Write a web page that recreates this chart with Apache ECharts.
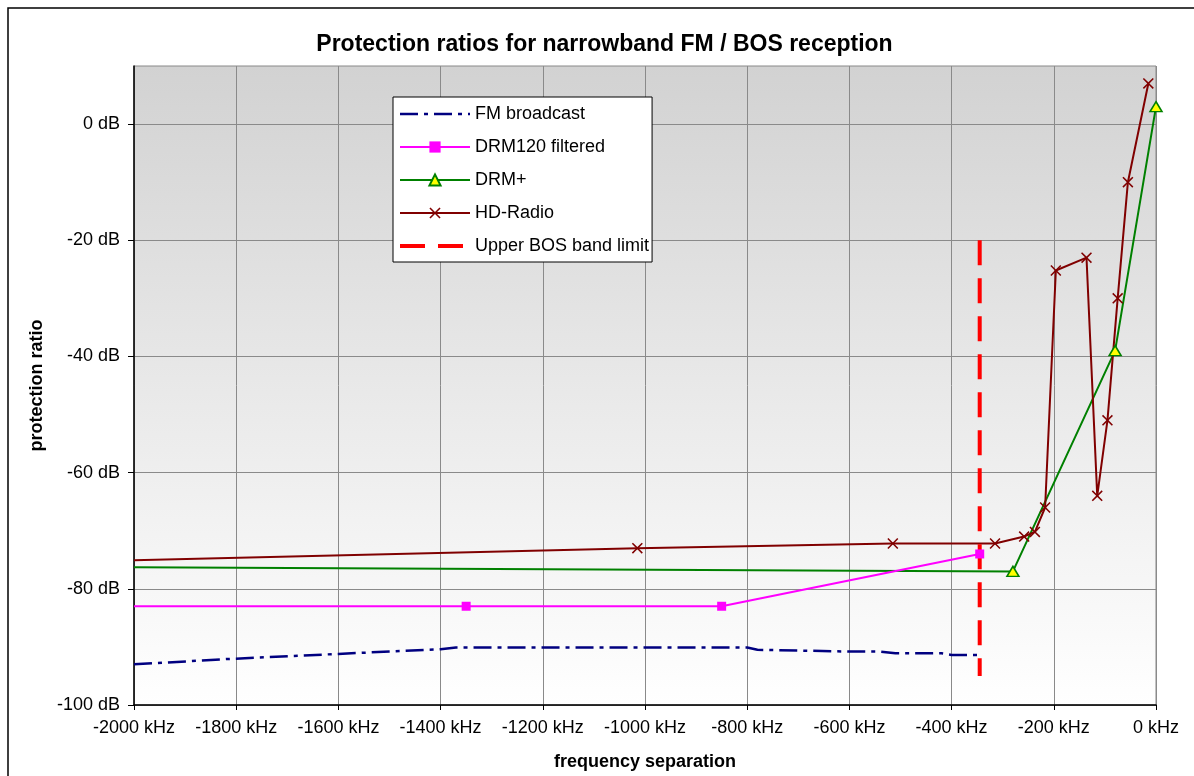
<!DOCTYPE html>
<html><head><meta charset="utf-8">
<script src="https://cdn.jsdelivr.net/npm/echarts@6/dist/echarts.min.js"></script>
<style>html,body{margin:0;padding:0;background:#fff}#c{width:1194px;height:776px}</style>
</head><body><div id="c"></div>
<script>
// ---- data ----
const fmX = [-2000, -1820, -1600, -1400, -1370, -800, -780, -600, -540, -510, -420, -400, -345];
const fmY = [-93.0, -92.1, -91.2, -90.4, -90.1, -90.1, -90.5, -90.8, -90.8, -91.1, -91.1, -91.4, -91.4];
const drm120X = [-2000, -1350, -850, -345];
const drm120Y = [-83, -83, -83, -74];
const drmPlusX = [-2000, -280, -80, 0];
const drmPlusY = [-76.3, -77, -39, 3];
const hdX = [-2000, -1015, -515, -315, -258, -237, -217, -196, -136, -115, -95, -75, -55, -15];
const hdY = [-75.1, -73, -72.2, -72.2, -71, -70.2, -66, -25.2, -23, -64, -51, -30, -10, 7];
const bosX = [-345, -345];
const bosY = [-20, -95];
const seriesNames = ['FM broadcast', 'DRM120 filtered', 'DRM+', 'HD-Radio', 'Upper BOS band limit'];
const yTickValues = [-100, -80, -60, -40, -20, 0];
const xMin = -2000, xMax = 0, xStep = 200;
const yMin = -100, yMax = 10, yStep = 20;
const titleText = 'Protection ratios for narrowband FM / BOS reception';

// ---- build ----
const FONT = 'Arial, "Liberation Sans", sans-serif';
function pairs(xs, ys, hideFirst) {
  return xs.map((x, i) => (hideFirst && i === 0) ? { value: [x, ys[i]], symbol: 'none' } : [x, ys[i]]);
}
const cv = document.createElement('canvas').getContext('2d');
cv.font = 'bold 23px ' + FONT;
const titleW = cv.measureText(titleText).width;

const chart = echarts.init(document.getElementById('c'), null, { renderer: 'canvas' });
const xMark = 'path://M0,1L1,0L5,4L9,0L10,1L6,5L10,9L9,10L5,6L1,10L0,9L4,5Z';
const clear = 'rgba(0,0,0,0)';
const legendLine = [
  { width: 2.5 }, { width: 2 }, { width: 2 }, { width: 2 }, { width: 4 }
];
chart.setOption({
  animation: false,
  backgroundColor: '#fff',
  textStyle: { fontFamily: FONT },
  graphic: [{
    type: 'rect', z: -10, silent: true,
    shape: { x: 8, y: 8, width: 1300, height: 900 },
    style: { fill: 'none', stroke: '#000', lineWidth: 1.5 }
  }],
  title: {
    text: titleText,
    left: 604.5 - titleW / 2, top: 33, padding: 0,
    textStyle: { fontSize: 23, fontWeight: 'bold', color: '#000', fontFamily: FONT }
  },
  legend: {
    data: seriesNames.map((n, i) => ({ name: n, lineStyle: legendLine[i] })),
    orient: 'vertical',
    left: 393, top: 97,
    itemWidth: 70, itemHeight: 14, itemGap: 15,
    padding: [8, 3, 7, 5],
    backgroundColor: '#fff', borderColor: '#000', borderWidth: 1,
    textStyle: { fontSize: 18, color: '#000', fontFamily: FONT }
  },
  grid: {
    left: 134, right: 38, top: 66, bottom: 71, show: true,
    borderColor: '#888', borderWidth: 1,
    backgroundColor: { type: 'linear', x: 0, y: 0, x2: 0, y2: 1,
      colorStops: [{ offset: 0, color: '#d2d2d2' }, { offset: 1, color: '#ffffff' }] }
  },
  xAxis: {
    type: 'value', min: xMin, max: xMax, interval: xStep,
    axisLine: { show: true, onZero: false, lineStyle: { color: '#000', width: 1.5 } },
    axisTick: { show: true, length: 5, lineStyle: { color: '#000' } },
    axisLabel: { formatter: v => v + ' kHz', fontSize: 18, color: '#000', margin: 14, fontFamily: FONT },
    splitLine: { show: true, lineStyle: { color: '#8a8a8a', width: 1 } },
    name: 'frequency separation', nameLocation: 'middle', nameGap: 48,
    nameTextStyle: { fontSize: 18, fontWeight: 'bold', color: '#000', fontFamily: FONT }
  },
  yAxis: {
    type: 'value', min: yMin, max: yMax, interval: yStep,
    axisLine: { show: true, onZero: false, lineStyle: { color: '#000', width: 1.5 } },
    axisTick: { show: true, length: 6, lineStyle: { color: '#000' }, customValues: yTickValues },
    axisLabel: { formatter: v => v + ' dB', fontSize: 18, color: '#000', margin: 14, fontFamily: FONT, customValues: yTickValues },
    splitLine: { show: true, lineStyle: { color: '#8a8a8a', width: 1 } },
    name: 'protection ratio', nameLocation: 'middle', nameGap: 88, nameRotate: 90,
    nameTextStyle: { fontSize: 18, fontWeight: 'bold', color: '#000', fontFamily: FONT }
  },
  series: [
    {
      name: seriesNames[0], type: 'line', data: pairs(fmX, fmY, false),
      symbol: 'none', lineStyle: { color: '#000080', width: 2.5, type: [18, 6, 4, 6] },
      itemStyle: { color: clear }, z: 2
    },
    {
      name: seriesNames[1], type: 'line', data: pairs(drm120X, drm120Y, true),
      symbol: 'rect', symbolSize: 9, showAllSymbol: true,
      lineStyle: { color: '#ff00ff', width: 2 }, itemStyle: { color: '#ff00ff' }, z: 4
    },
    {
      name: seriesNames[2], type: 'line', data: pairs(drmPlusX, drmPlusY, true),
      symbol: 'triangle', symbolSize: [12, 10], showAllSymbol: true,
      lineStyle: { color: '#008000', width: 2 },
      itemStyle: { color: '#ffff00', borderColor: '#008000', borderWidth: 1.5 }, z: 3
    },
    {
      name: seriesNames[3], type: 'line', data: pairs(hdX, hdY, true),
      symbol: xMark, symbolSize: 11, showAllSymbol: true,
      lineStyle: { color: '#800000', width: 2 }, itemStyle: { color: '#800000' }, z: 3
    },
    {
      name: seriesNames[4], type: 'line', data: pairs(bosX, bosY, false),
      symbol: 'none', lineStyle: { color: '#ff0000', width: 4, type: [25, 13] },
      itemStyle: { color: clear }, z: 3
    }
  ]
});
</script>
</body></html>
